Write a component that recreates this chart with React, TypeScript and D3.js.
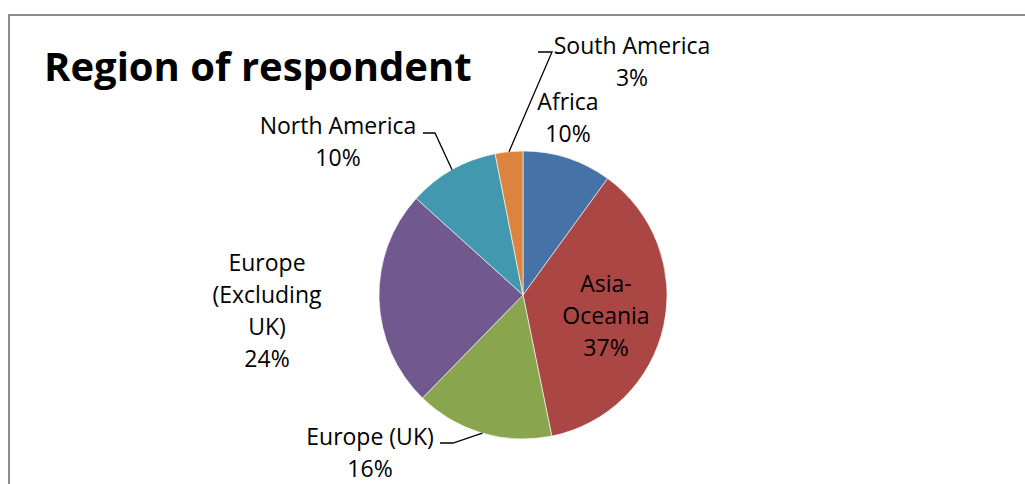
import React from "react";
import * as d3 from "d3";

const categories = ["Africa", "Asia-Oceania", "Europe (UK)", "Europe (Excluding UK)", "North America", "South America"];
const values = [10.0, 36.8, 15.5, 24.4, 10.2, 3.1];
const pctLabels = ["10%", "37%", "16%", "24%", "10%", "3%"];
const colors = ["#4572A7", "#AA4643", "#89A54E", "#71588F", "#4198AF", "#DB843D"];

// label layout: lines, center x, first baseline, leader elbow (if any)
const labelLayout = [
  { lines: ["Africa"], x: 568, y: 110, leader: null },
  { lines: ["Asia-", "Oceania"], x: 606, y: 292, leader: null },
  { lines: ["Europe (UK)"], x: 370, y: 445, leader: { hx: 440, hy: 443, ex: 453 } },
  { lines: ["Europe", "(Excluding", "UK)"], x: 267, y: 271, leader: null },
  { lines: ["North America"], x: 338, y: 134, leader: { hx: 423, hy: 133, ex: 435 } },
  { lines: ["South America"], x: 632, y: 54, leader: { hx: 538, hy: 52, ex: 552 } },
];

const W = 1025, H = 484;
const cx = 523, cy = 295, R = 144;
const LH = 32;
const FONT = "'Open Sans', Lato, sans-serif";

export default function App() {
  const pie = d3.pie<number>().sort(null).value((d) => d)(values);
  const arc = d3.arc<d3.PieArcDatum<number>>().innerRadius(0).outerRadius(R);

  return (
    <svg width={W} height={H} style={{ position: "absolute", left: 0, top: 0, background: "#fff" }} fontFamily={FONT}>
      <rect x={9} y={15} width={1100} height={600} fill="#fff" stroke="#8c8c8c" strokeWidth={2} />
      <text x={44} y={81} fontSize={40} fontWeight="bold" fill="#000">Region of respondent</text>
      <g transform={`translate(${cx},${cy})`}>
        {pie.map((p, i) => (
          <path key={i} d={arc(p) || ""} fill={colors[i]} stroke="#fff" strokeWidth={0.6} />
        ))}
      </g>
      {pie.map((p, i) => {
        const L = labelLayout[i];
        if (!L.leader) return null;
        const mid = (p.startAngle + p.endAngle) / 2;
        const px = cx + R * Math.sin(mid);
        const py = cy - R * Math.cos(mid);
        const { hx, hy, ex } = L.leader;
        return (
          <polyline key={"l" + i}
            points={`${hx},${hy} ${ex},${hy} ${px},${py}`}
            fill="none" stroke="#000" strokeWidth={1.3} />
        );
      })}
      {labelLayout.map((L, i) => (
        <text key={"t" + i} x={L.x} y={L.y} fontSize={23} textAnchor="middle" fill="#000">
          {[...L.lines, pctLabels[i]].map((s, j) => (
            <tspan key={j} x={L.x} y={L.y + j * LH}>{s}</tspan>
          ))}
        </text>
      ))}
    </svg>
  );
}
